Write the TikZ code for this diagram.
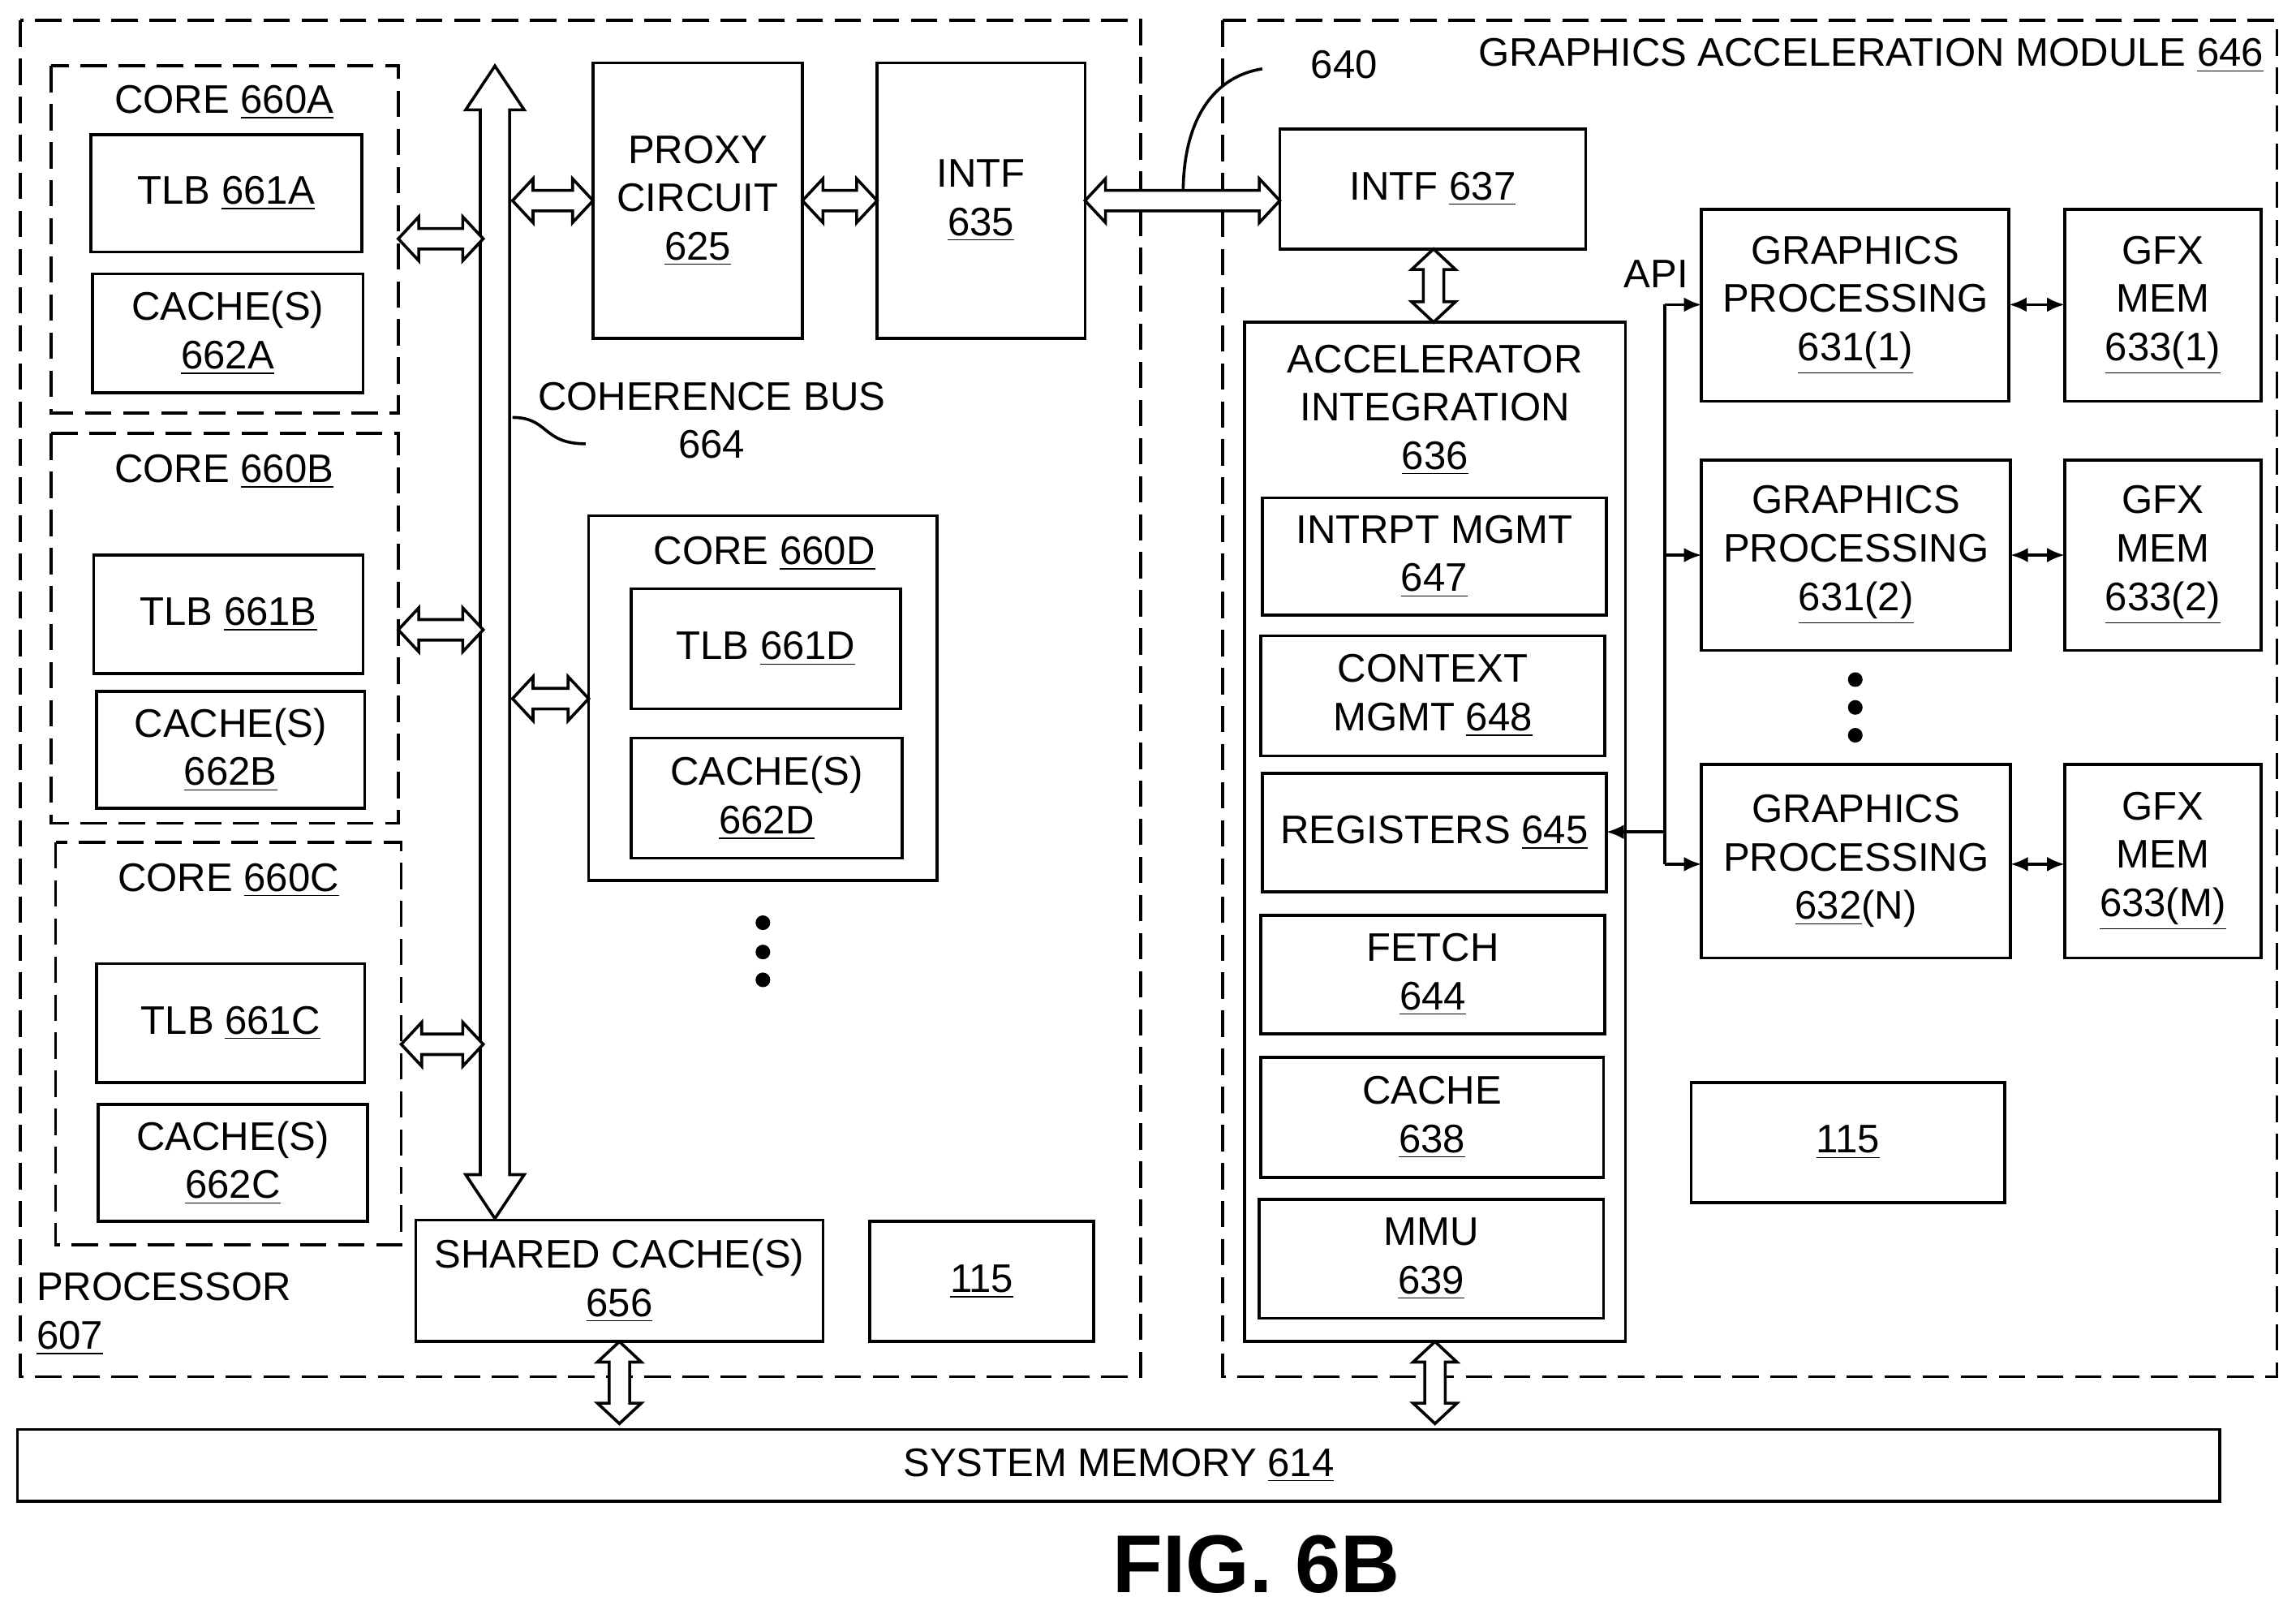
\documentclass[tikz,border=0pt]{standalone}
\usepackage{fontspec}
\setmainfont{Liberation Sans}
\usetikzlibrary{arrows.meta}
\begin{document}
\newcommand\un[1]{\underline{#1}}
\newcommand\bx[7][box]{\node[#1,minimum width={(#5-#3)*0.5pt},minimum height={(#6-#4)*0.5pt}] (#2) at ({(#3+#5)/2},{(#4+#6)/2}) {#7};}
\newcommand\harr[6]{\draw[arr] (#1,#3) -- (#1+#6,#3-#5) -- (#1+#6,#3-#4) -- (#2-#6,#3-#4) -- (#2-#6,#3-#5) -- (#2,#3) -- (#2-#6,#3+#5) -- (#2-#6,#3+#4) -- (#1+#6,#3+#4) -- (#1+#6,#3+#5) -- cycle;}
\newcommand\varr[6]{\draw[arr] (#3,#1) -- (#3-#5,#1+#6) -- (#3-#4,#1+#6) -- (#3-#4,#2-#6) -- (#3-#5,#2-#6) -- (#3,#2) -- (#3+#5,#2-#6) -- (#3+#4,#2-#6) -- (#3+#4,#1+#6) -- (#3+#5,#1+#6) -- cycle;}
\begin{tikzpicture}[x=0.5pt,y=-0.5pt,line width=1pt,
 box/.style={draw,inner sep=0pt,outer sep=0pt,align=center,font=\fontsize{13.6}{16.5}\selectfont},
 lbl/.style={inner sep=0pt,align=center,font=\fontsize{13.6}{16.5}\selectfont},
 dsh/.style={draw,dash pattern=on 9pt off 4pt},
 arr/.style={draw,fill=white,line width=1pt,line join=miter},
 sarr/.style={-{Latex[length=6pt,width=5pt]},line width=1pt},
 darr/.style={{Latex[length=6pt,width=5pt]}-{Latex[length=6pt,width=5pt]},line width=1pt},
 dot/.style={circle,fill,inner sep=0pt,minimum size=5pt}]
\useasboundingbox (0,0) rectangle (1568,1099);
% outer dashed
\draw[dsh] (14,14) rectangle (779,940);
\draw[dsh] (835,14) rectangle (1555,940);
% cores
\draw[dsh] (35,45) rectangle (272,282);
\node[lbl] (c660a) at (153,70) {CORE \un{660A}};
\bx{tlba}{62}{92}{247}{172}{TLB \un{661A}}
\bx{caca}{63}{187}{248}{268}{CACHE(S)\\\un{662A}}
\draw[dsh] (35,296) rectangle (272,562);
\node[lbl] (c660b) at (153,322) {CORE \un{660B}};
\bx{tlbb}{64}{379}{248}{460}{TLB \un{661B}}
\bx{cacb}{66}{472}{249}{552}{CACHE(S)\\\un{662B}}
\draw[dsh] (38,575) rectangle (274,850);
\node[lbl] (c660c) at (156,601) {CORE \un{660C}};
\bx{tlbc}{66}{658}{249}{739}{TLB \un{661C}}
\bx{cacc}{67}{754}{251}{834}{CACHE(S)\\\un{662C}}
% proxy etc
\bx{proxy}{405}{43}{548}{231}{PROXY\\CIRCUIT\\\un{625}}
\bx{intfa}{599}{43}{741}{231}{INTF\\\un{635}}
\node[lbl] (cb) at (486,287) {COHERENCE BUS\\664};
\draw (350,285) .. controls (375,285) and (370,303) .. (400,303);
\bx{cored}{402}{352}{640}{601}{}
\node[lbl] (c660d) at (522,378) {CORE \un{660D}};
\bx{tlbd}{431}{402}{615}{484}{TLB \un{661D}}
\bx{cacd}{431}{504}{616}{586}{CACHE(S)\\\un{662D}}
\node[dot] (d1) at (521,630) {}; \node[dot] (d2) at (521,650) {}; \node[dot] (d3) at (521,669) {};
\bx{shc}{284}{833}{562}{916}{SHARED CACHE(S)\\\un{656}}
\bx{ca}{594}{834}{747}{916}{\un{115}}
\node[lbl,align=left,anchor=north west] (proc) at (24,868) {PROCESSOR\\\un{607}};
% GAM
\node[lbl,anchor=east] (gam) at (1547,38) {GRAPHICS ACCELERATION MODULE \un{646}};
\node[lbl] (l640) at (918,44) {640};
\bx{intfb}{874}{88}{1083}{170}{INTF \un{637}}
\draw (808,132) .. controls (808,80) and (830,52) .. (862,47);
\bx{acc}{850}{220}{1110}{916}{}
\node[lbl] (acct) at (980,280) {ACCELERATOR\\INTEGRATION\\\un{636}};
\bx{im}{862}{340}{1097}{420}{INTRPT MGMT\\\un{647}}
\bx{cm}{861}{434}{1096}{516}{CONTEXT\\MGMT \un{648}}
\bx{reg}{862}{528}{1097}{609}{REGISTERS \un{645}}
\bx{fe}{861}{625}{1096}{706}{FETCH\\\un{644}}
\bx{c638}{861}{722}{1095}{804}{CACHE\\\un{638}}
\bx{mmu}{860}{819}{1095}{900}{MMU\\\un{639}}
\node[lbl] (api) at (1131,187) {API};
\bx{gp1}{1162}{143}{1372}{274}{GRAPHICS\\PROCESSING\\\un{631(1)}}
\bx{gp2}{1162}{314}{1373}{444}{GRAPHICS\\PROCESSING\\\un{631(2)}}
\bx{gp3}{1162}{522}{1373}{654}{GRAPHICS\\PROCESSING\\\un{632}(N)}
\bx{gm1}{1410}{143}{1544}{274}{GFX\\MEM\\\un{633(1)}}
\bx{gm2}{1410}{314}{1544}{444}{GFX\\MEM\\\un{633(2)}}
\bx{gm3}{1410}{522}{1544}{654}{GFX\\MEM\\\un{633(M)}}
\node[dot] (e1) at (1267,464) {}; \node[dot] (e2) at (1267,483) {}; \node[dot] (e3) at (1267,502) {};
\bx{cb2}{1155}{739}{1369}{821}{\un{115}}
\coordinate (vt) at (1137,208); \coordinate (vb) at (1137,590);
\draw (vt) -- (vb);
\draw[sarr] (vt) -- (gp1.west|-vt);
\draw[sarr] (1137,379) -- (gp2.west|-0,379);
\draw[sarr] (vb) -- (gp3.west|-vb);
\draw[sarr] (1137,568) -- (reg.east|-0,568);
\draw[darr] (gp1.east|-0,208) -- (gm1.west|-0,208);
\draw[darr] (gp2.east|-0,379) -- (gm2.west|-0,379);
\draw[darr] (gp3.east|-0,590) -- (gm3.west|-0,590);
\bx{sys}{12}{976}{1516}{1025}{SYSTEM MEMORY \un{614}}
\node[inner sep=0pt,font=\fontsize{28}{30}\selectfont\bfseries] (fig) at (858,1068) {FIG. 6B};
% double arrows
\varr{45}{832}{338}{10}{20}{30}
\harr{272}{330}{163}{7}{15}{14}
\harr{272}{330}{430}{7}{15}{14}
\harr{274}{330}{713}{7}{15}{14}
\harr{350}{405}{137}{7}{15}{14}
\harr{548}{599}{137}{7}{15}{14}
\harr{741}{874}{137}{7}{15}{14}
\harr{350}{402}{477}{7}{15}{14}
\varr{916}{972}{423}{7}{15}{14}
\varr{916}{972}{980}{7}{15}{14}
\varr{170}{220}{979}{7}{15}{14}
\end{tikzpicture}
\end{document}
